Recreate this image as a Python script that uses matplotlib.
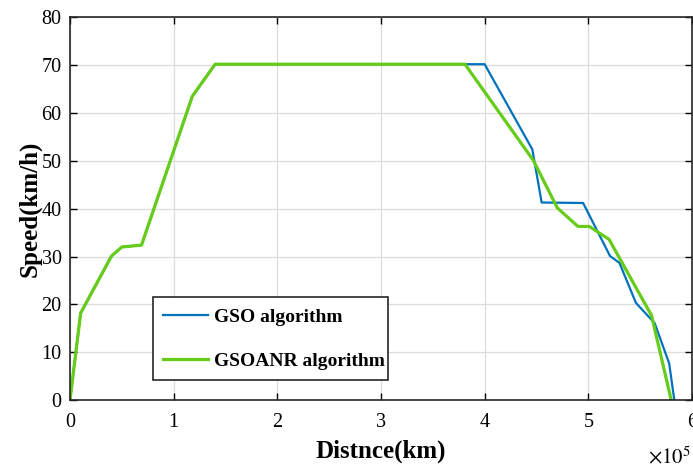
import numpy as np
import matplotlib.pyplot as plt
from matplotlib.ticker import FuncFormatter

# distance in km, speed in km/h
gso_dist = [0, 0.103e5, 0.40e5, 0.50e5, 0.69e5, 1.18e5, 1.40e5, 4.00e5, 4.46e5,
            4.55e5, 4.95e5, 5.21e5, 5.30e5, 5.46e5, 5.64e5, 5.78e5, 5.83e5]
gso_speed = [0, 18.2, 30.1, 32.0, 32.4, 63.5, 70.2, 70.2, 52.4,
             41.3, 41.2, 30.1, 28.7, 20.3, 16.1, 7.7, 0]

anr_dist = [0, 0.103e5, 0.40e5, 0.50e5, 0.69e5, 1.18e5, 1.40e5, 3.81e5, 4.47e5,
            4.70e5, 4.90e5, 5.01e5, 5.20e5, 5.61e5, 5.80e5]
anr_speed = [0, 18.2, 30.1, 32.0, 32.4, 63.5, 70.2, 70.2, 50.1,
             40.2, 36.3, 36.3, 33.6, 17.7, 0]

plt.rcParams['font.family'] = ['Liberation Serif', 'DejaVu Serif']

fig = plt.figure(figsize=(6.93, 4.68), dpi=100)
ax = fig.add_axes([0.101, 0.145, 0.8975, 0.818])

ax.plot(gso_dist, gso_speed, color='#0072BD', lw=1.6, label='GSO algorithm')
ax.plot(anr_dist, anr_speed, color='#66CC1A', lw=2.3, label='GSOANR algorithm')

ax.set_xlim(0, 6e5)
ax.set_ylim(0, 80)
ax.set_xticks(np.arange(0, 6.01e5, 1e5))
ax.set_yticks(np.arange(0, 81, 10))
ax.xaxis.set_major_formatter(FuncFormatter(lambda v, p: '%g' % (v / 1e5)))
ax.grid(True, color='#dcdcdc', lw=0.9)
ax.set_axisbelow(True)
ax.tick_params(direction='in', top=True, right=True, labelsize=14.5, length=5, width=1)
ax.tick_params(axis='x', pad=9)
ax.tick_params(axis='y', pad=6)
for s in ax.spines.values():
    s.set_linewidth(1.2)
    s.set_color('#262626')

ax.set_xlabel('Distnce(km)', fontsize=18, fontweight='bold', labelpad=6)
ax.set_ylabel('Speed(km/h)', fontsize=18, fontweight='bold', labelpad=0)
ax.text(0.998, -0.15, r'$\times 10^5$', transform=ax.transAxes, ha='right', va='center',
        fontsize=15, math_fontfamily='stix')

leg = ax.legend(loc='lower left', bbox_to_anchor=(0.133, 0.052, 0.378, 0.23), mode='expand',
                prop={'weight': 'bold', 'size': 14}, fancybox=False, framealpha=1,
                edgecolor='#262626', handlelength=2.3, handletextpad=0.3,
                labelspacing=1.35, borderpad=0.55, borderaxespad=0)
leg.get_frame().set_linewidth(1.2)

fig.savefig('out.png', dpi=100)
